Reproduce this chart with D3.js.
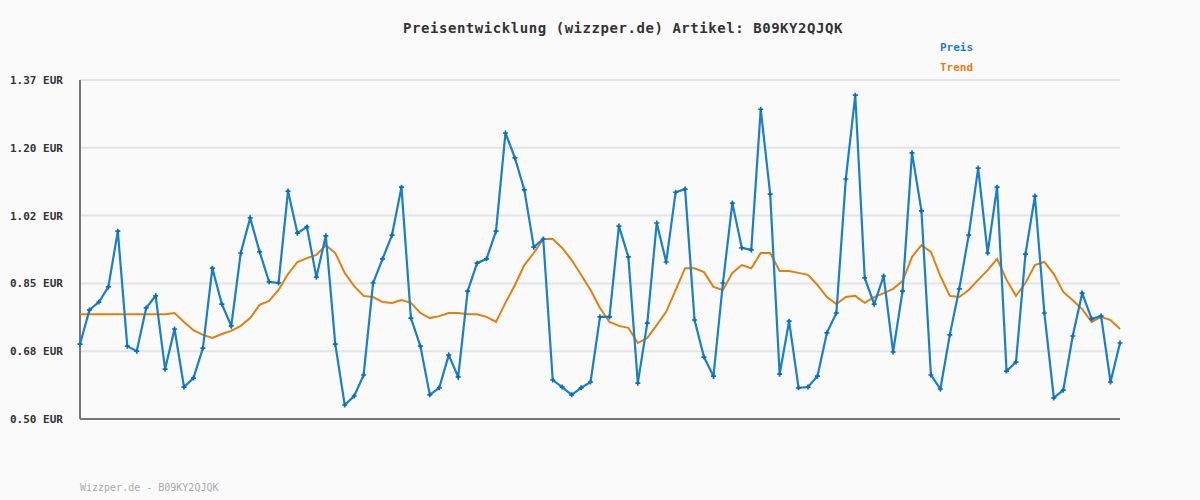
<!DOCTYPE html>
<html>
<head>
<meta charset="utf-8">
<script src="https://cdn.jsdelivr.net/npm/d3@7"></script>
<style>
  body { margin: 0; background: #fafafa; }
  svg { display: block; font-family: "DejaVu Sans Mono", monospace; }
</style>
</head>
<body>
<svg id="chart"></svg>
<script>
const preis = [0.692,0.780,0.800,0.839,0.982,0.687,0.674,0.785,0.816,0.628,
  0.731,0.582,0.605,0.682,0.887,0.795,0.739,0.926,1.016,0.929,
  0.852,0.849,1.085,0.977,0.993,0.864,0.970,0.692,0.536,0.559,
  0.613,0.849,0.911,0.972,1.095,0.759,0.687,0.562,0.580,0.664,
  0.608,0.828,0.900,0.911,0.982,1.234,1.170,1.088,0.941,0.962,
  0.600,0.582,0.562,0.580,0.595,0.762,0.762,0.995,0.916,0.592,
  0.746,1.003,0.903,1.082,1.090,0.754,0.659,0.610,0.849,1.054,
  0.939,0.934,1.295,1.077,0.615,0.751,0.580,0.582,0.610,0.721,
  0.772,1.116,1.331,0.862,0.795,0.867,0.672,0.828,1.183,1.034,
  0.613,0.577,0.716,0.834,0.972,1.144,0.926,1.095,0.623,0.646,
  0.923,1.072,0.772,0.554,0.574,0.713,0.823,0.757,0.764,0.595,0.695];
const trend = [0.769,0.769,0.769,0.769,0.769,0.769,0.769,0.769,0.769,0.769,
  0.772,0.749,0.728,0.716,0.708,0.718,0.726,0.739,0.759,0.793,
  0.803,0.831,0.872,0.903,0.913,0.921,0.946,0.926,0.875,0.841,
  0.816,0.813,0.800,0.798,0.805,0.798,0.772,0.759,0.764,0.772,
  0.772,0.769,0.769,0.762,0.749,0.798,0.844,0.895,0.926,0.962,
  0.962,0.939,0.908,0.870,0.831,0.785,0.749,0.739,0.734,0.695,
  0.708,0.741,0.775,0.831,0.887,0.887,0.877,0.839,0.831,0.875,
  0.895,0.887,0.926,0.926,0.880,0.880,0.875,0.870,0.844,0.813,
  0.795,0.813,0.816,0.798,0.813,0.823,0.834,0.854,0.916,0.946,
  0.929,0.867,0.816,0.813,0.831,0.857,0.882,0.911,0.857,0.816,
  0.849,0.895,0.903,0.872,0.826,0.805,0.782,0.749,0.762,0.754,0.731];
const tickValues = [0.50, 0.674, 0.848, 1.022, 1.196, 1.37];
const tickLabels = ['0.50 EUR', '0.68 EUR', '0.85 EUR', '1.02 EUR', '1.20 EUR', '1.37 EUR'];
const title = 'Preisentwicklung (wizzper.de) Artikel: B09KY2QJQK';
const footer = 'Wizzper.de - B09KY2QJQK';

const width = 1200, height = 500;
const margin = { left: 80, right: 80, top: 80, bottom: 81 };
const blue = '#1a7fc9', orange = '#e0810f';

const svg = d3.select('#chart').attr('width', width).attr('height', height);
svg.append('rect').attr('width', width).attr('height', height).attr('fill', '#fafafa');

const x = d3.scaleLinear().domain([0, preis.length - 1]).range([margin.left, width - margin.right]);
const y = d3.scaleLinear().domain([0.50, 1.37]).range([height - margin.bottom, margin.top]);

// grid
svg.append('g').selectAll('line').data(tickValues.slice(1)).join('line')
  .attr('x1', margin.left).attr('x2', width - margin.right)
  .attr('y1', d => y(d)).attr('y2', d => y(d))
  .attr('stroke', '#e4e4e4').attr('stroke-width', 2);

// y labels
svg.append('g').selectAll('text').data(tickValues).join('text')
  .attr('x', 10).attr('y', d => y(d) + 4)
  .attr('font-size', 11).attr('font-weight', 'bold').attr('fill', '#333')
  .text((d, i) => tickLabels[i]);

// axes lines
svg.append('line').attr('x1', margin.left).attr('x2', margin.left)
  .attr('y1', margin.top).attr('y2', y(0.5)).attr('stroke', '#777').attr('stroke-width', 2);
svg.append('line').attr('x1', margin.left).attr('x2', width - margin.right)
  .attr('y1', y(0.5)).attr('y2', y(0.5)).attr('stroke', '#777').attr('stroke-width', 2);

const line = d3.line().x((d, i) => x(i)).y(d => y(d));

svg.append('path').datum(trend).attr('d', line)
  .attr('fill', 'none').attr('stroke', orange).attr('stroke-width', 2);
svg.append('path').datum(preis).attr('d', line)
  .attr('fill', 'none').attr('stroke', blue).attr('stroke-width', 2.2);
svg.append('g').selectAll('path').data(preis).join('path')
  .attr('d', d3.symbol(d3.symbolCross, 14))
  .attr('transform', (d, i) => `translate(${x(i)},${y(d)})`)
  .attr('fill', '#0b6fb8');

svg.append('text').attr('x', 623).attr('y', 33).attr('text-anchor', 'middle')
  .attr('font-size', 14).attr('letter-spacing', 0.55).attr('font-weight', 'bold')
  .attr('fill', '#333').text(title);

svg.append('text').attr('x', 940).attr('y', 51).attr('font-size', 11)
  .attr('font-weight', 'bold').attr('fill', blue).text('Preis');
svg.append('text').attr('x', 940).attr('y', 71).attr('font-size', 11)
  .attr('font-weight', 'bold').attr('fill', orange).text('Trend');

svg.append('text').attr('x', 80).attr('y', 491).attr('font-size', 10)
  .attr('fill', '#aaa').text(footer);
</script>
</body>
</html>
